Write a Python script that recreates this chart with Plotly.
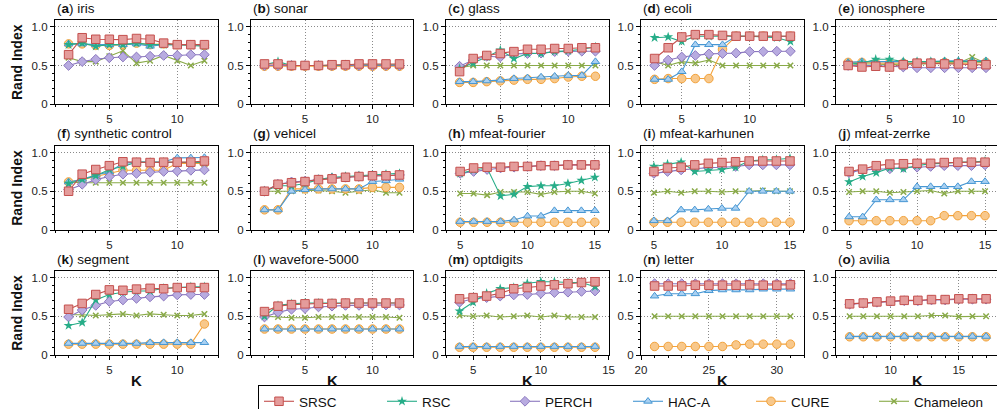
import plotly.graph_objects as go

W, H = 997, 409

# ---------------- data ----------------
a_K = [2, 3, 4, 5, 6, 7, 8, 9, 10, 11, 12]
a_SRSC = [0.64, 0.86, 0.84, 0.84, 0.835, 0.85, 0.84, 0.79, 0.77, 0.77, 0.77]
a_RSC = [0.77, 0.79, 0.75, 0.77, 0.77, 0.79, 0.77, 0.77, 0.77, 0.76, 0.75]
a_PERCH = [0.50, 0.55, 0.58, 0.60, 0.61, 0.61, 0.62, 0.63, 0.63, 0.64, 0.64]
a_HACA = [0.78, 0.78, 0.77, 0.77, 0.77, 0.78, 0.75, 0.77, 0.77, 0.77, 0.76]
a_CURE = [0.78, 0.78, 0.76, 0.76, 0.77, 0.79, 0.77, 0.78, 0.77, 0.77, 0.76]
a_CHAM = [0.60, 0.55, 0.55, 0.62, 0.69, 0.53, 0.56, 0.63, 0.56, 0.50, 0.56]

b_K = [2, 3, 4, 5, 6, 7, 8, 9, 10, 11, 12]
b_SRSC = [0.52, 0.52, 0.50, 0.50, 0.50, 0.51, 0.51, 0.52, 0.52, 0.52, 0.52]
b_RSC = [0.51, 0.55, 0.50, 0.50, 0.50, 0.50, 0.51, 0.51, 0.51, 0.51, 0.51]
b_PERCH = [0.50, 0.50, 0.50, 0.50, 0.50, 0.50, 0.50, 0.50, 0.50, 0.50, 0.50]
b_HACA = [0.50, 0.50, 0.50, 0.50, 0.50, 0.50, 0.50, 0.50, 0.50, 0.50, 0.50]
b_CURE = [0.49, 0.49, 0.49, 0.49, 0.49, 0.49, 0.49, 0.49, 0.49, 0.49, 0.49]
b_CHAM = [0.50, 0.50, 0.50, 0.50, 0.50, 0.50, 0.50, 0.50, 0.50, 0.50, 0.50]

c_K = [2, 3, 4, 5, 6, 7, 8, 9, 10, 11, 12]
c_SRSC = [0.42, 0.59, 0.63, 0.655, 0.68, 0.71, 0.71, 0.72, 0.72, 0.73, 0.73]
c_RSC = [0.46, 0.53, 0.61, 0.70, 0.59, 0.655, 0.655, 0.68, 0.69, 0.71, 0.74]
c_PERCH = [0.49, 0.57, 0.62, 0.61, 0.65, 0.655, 0.66, 0.68, 0.685, 0.685, 0.685]
c_HACA = [0.29, 0.29, 0.30, 0.31, 0.33, 0.34, 0.35, 0.36, 0.37, 0.37, 0.55]
c_CURE = [0.28, 0.28, 0.29, 0.30, 0.31, 0.32, 0.32, 0.33, 0.35, 0.36, 0.36]
c_CHAM = [0.47, 0.50, 0.50, 0.50, 0.50, 0.50, 0.50, 0.50, 0.50, 0.50, 0.50]

d_K = [3, 4, 5, 6, 7, 8, 9, 10, 11, 12, 13]
d_SRSC = [0.59, 0.73, 0.87, 0.90, 0.90, 0.89, 0.88, 0.88, 0.88, 0.88, 0.88]
d_RSC = [0.86, 0.87, 0.81, 0.88, 0.88, 0.88, 0.88, 0.88, 0.87, 0.86, 0.81]
d_PERCH = [0.50, 0.57, 0.61, 0.63, 0.65, 0.655, 0.66, 0.68, 0.68, 0.685, 0.685]
d_HACA = [0.32, 0.32, 0.42, 0.77, 0.77, 0.77, 0.88, 0.88, 0.88, 0.88, 0.88]
d_CURE = [0.32, 0.33, 0.33, 0.33, 0.33, 0.71, 0.88, 0.88, 0.88, 0.88, 0.88]
d_CHAM = [0.55, 0.50, 0.55, 0.53, 0.57, 0.50, 0.50, 0.50, 0.50, 0.50, 0.50]

e_K = [2, 3, 4, 5, 6, 7, 8, 9, 10, 11, 12]
e_SRSC = [0.50, 0.48, 0.49, 0.48, 0.51, 0.53, 0.53, 0.52, 0.52, 0.51, 0.51]
e_RSC = [0.52, 0.53, 0.58, 0.58, 0.55, 0.55, 0.55, 0.55, 0.55, 0.55, 0.55]
e_PERCH = [0.50, 0.50, 0.50, 0.49, 0.48, 0.47, 0.47, 0.47, 0.47, 0.47, 0.47]
e_HACA = [0.54, 0.55, 0.55, 0.55, 0.55, 0.55, 0.55, 0.56, 0.56, 0.56, 0.56]
e_CURE = [0.54, 0.54, 0.53, 0.53, 0.53, 0.53, 0.53, 0.54, 0.53, 0.53, 0.54]
e_CHAM = [0.50, 0.52, 0.52, 0.51, 0.52, 0.52, 0.52, 0.53, 0.53, 0.61, 0.53]

f_K = [2, 3, 4, 5, 6, 7, 8, 9, 10, 11, 12]
f_SRSC = [0.50, 0.72, 0.78, 0.83, 0.88, 0.875, 0.87, 0.875, 0.875, 0.875, 0.89]
f_RSC = [0.60, 0.65, 0.70, 0.78, 0.82, 0.875, 0.875, 0.875, 0.87, 0.87, 0.87]
f_PERCH = [0.52, 0.59, 0.65, 0.69, 0.72, 0.73, 0.745, 0.755, 0.76, 0.77, 0.775]
f_HACA = [0.62, 0.655, 0.71, 0.75, 0.86, 0.875, 0.875, 0.88, 0.93, 0.93, 0.935]
f_CURE = [0.62, 0.65, 0.69, 0.73, 0.77, 0.77, 0.77, 0.77, 0.86, 0.86, 0.86]
f_CHAM = [0.62, 0.61, 0.61, 0.61, 0.61, 0.61, 0.61, 0.61, 0.61, 0.61, 0.61]

g_K = [2, 3, 4, 5, 6, 7, 8, 9, 10, 11, 12]
g_SRSC = [0.50, 0.59, 0.61, 0.625, 0.65, 0.66, 0.68, 0.69, 0.70, 0.70, 0.71]
g_RSC = [0.50, 0.57, 0.57, 0.60, 0.65, 0.68, 0.69, 0.70, 0.71, 0.72, 0.73]
g_PERCH = [0.50, 0.59, 0.62, 0.63, 0.65, 0.67, 0.68, 0.69, 0.70, 0.70, 0.71]
g_HACA = [0.26, 0.26, 0.50, 0.52, 0.53, 0.53, 0.53, 0.53, 0.625, 0.635, 0.655]
g_CURE = [0.26, 0.26, 0.53, 0.53, 0.53, 0.53, 0.53, 0.53, 0.55, 0.55, 0.55]
g_CHAM = [0.50, 0.50, 0.50, 0.51, 0.51, 0.50, 0.48, 0.50, 0.52, 0.48, 0.48]

h_K = [5, 6, 7, 8, 9, 10, 11, 12, 13, 14, 15]
h_SRSC = [0.755, 0.80, 0.81, 0.81, 0.82, 0.82, 0.83, 0.83, 0.84, 0.84, 0.84]
h_RSC = [0.73, 0.775, 0.80, 0.44, 0.46, 0.56, 0.57, 0.57, 0.60, 0.64, 0.68]
h_PERCH = [0.73, 0.755, 0.78, 0.80, 0.81, 0.82, 0.83, 0.83, 0.84, 0.84, 0.84]
h_HACA = [0.11, 0.11, 0.11, 0.11, 0.13, 0.18, 0.18, 0.25, 0.25, 0.25, 0.25]
h_CURE = [0.10, 0.10, 0.10, 0.10, 0.10, 0.10, 0.10, 0.10, 0.10, 0.10, 0.10]
h_CHAM = [0.47, 0.47, 0.45, 0.49, 0.49, 0.49, 0.46, 0.49, 0.50, 0.50, 0.47]

i_K = [5, 6, 7, 8, 9, 10, 11, 12, 13, 14, 15]
i_SRSC = [0.755, 0.80, 0.81, 0.84, 0.86, 0.87, 0.88, 0.89, 0.89, 0.89, 0.89]
i_RSC = [0.82, 0.85, 0.875, 0.755, 0.77, 0.78, 0.81, 0.89, 0.905, 0.91, 0.925]
i_PERCH = [0.73, 0.755, 0.775, 0.79, 0.805, 0.81, 0.82, 0.84, 0.84, 0.84, 0.84]
i_HACA = [0.12, 0.12, 0.26, 0.26, 0.27, 0.28, 0.28, 0.50, 0.50, 0.50, 0.50]
i_CURE = [0.10, 0.10, 0.10, 0.10, 0.10, 0.10, 0.10, 0.10, 0.10, 0.10, 0.10]
i_CHAM = [0.48, 0.50, 0.48, 0.50, 0.50, 0.49, 0.50, 0.50, 0.51, 0.50, 0.50]

j_K = [5, 6, 7, 8, 9, 10, 11, 12, 13, 14, 15]
j_SRSC = [0.755, 0.785, 0.83, 0.85, 0.855, 0.86, 0.86, 0.87, 0.875, 0.875, 0.875]
j_RSC = [0.62, 0.69, 0.74, 0.80, 0.79, 0.83, 0.855, 0.86, 0.875, 0.875, 0.89]
j_PERCH = [0.74, 0.775, 0.785, 0.79, 0.81, 0.81, 0.82, 0.83, 0.83, 0.83, 0.84]
j_HACA = [0.17, 0.17, 0.39, 0.39, 0.39, 0.56, 0.56, 0.56, 0.56, 0.625, 0.625]
j_CURE = [0.12, 0.12, 0.12, 0.12, 0.12, 0.12, 0.12, 0.185, 0.185, 0.185, 0.185]
j_CHAM = [0.49, 0.50, 0.50, 0.48, 0.49, 0.50, 0.51, 0.47, 0.50, 0.50, 0.50]

k_K = [2, 3, 4, 5, 6, 7, 8, 9, 10, 11, 12]
k_SRSC = [0.59, 0.665, 0.78, 0.84, 0.835, 0.85, 0.86, 0.855, 0.87, 0.87, 0.87]
k_RSC = [0.38, 0.42, 0.71, 0.78, 0.81, 0.825, 0.825, 0.86, 0.87, 0.88, 0.88]
k_PERCH = [0.49, 0.58, 0.64, 0.69, 0.71, 0.73, 0.75, 0.76, 0.775, 0.78, 0.78]
k_HACA = [0.15, 0.15, 0.15, 0.15, 0.15, 0.15, 0.16, 0.16, 0.16, 0.16, 0.16]
k_CURE = [0.14, 0.14, 0.14, 0.14, 0.14, 0.14, 0.14, 0.14, 0.14, 0.14, 0.40]
k_CHAM = [0.52, 0.52, 0.51, 0.52, 0.53, 0.51, 0.53, 0.52, 0.51, 0.51, 0.53]

l_K = [2, 3, 4, 5, 6, 7, 8, 9, 10, 11, 12]
l_SRSC = [0.56, 0.63, 0.65, 0.66, 0.665, 0.665, 0.67, 0.67, 0.67, 0.67, 0.67]
l_RSC = [0.50, 0.64, 0.66, 0.67, 0.67, 0.67, 0.67, 0.67, 0.67, 0.67, 0.67]
l_PERCH = [0.49, 0.55, 0.59, 0.60, 0.62, 0.63, 0.64, 0.64, 0.645, 0.645, 0.645]
l_HACA = [0.335, 0.335, 0.335, 0.335, 0.335, 0.335, 0.335, 0.335, 0.335, 0.335, 0.335]
l_CURE = [0.335, 0.335, 0.335, 0.335, 0.335, 0.335, 0.335, 0.335, 0.335, 0.335, 0.335]
l_CHAM = [0.50, 0.49, 0.48, 0.48, 0.49, 0.49, 0.49, 0.49, 0.49, 0.49, 0.48]

m_K = [4, 5, 6, 7, 8, 9, 10, 11, 12, 13, 14]
m_SRSC = [0.725, 0.74, 0.76, 0.795, 0.855, 0.87, 0.89, 0.905, 0.92, 0.935, 0.945]
m_RSC = [0.565, 0.68, 0.795, 0.855, 0.87, 0.925, 0.945, 0.945, 0.935, 0.935, 0.88]
m_PERCH = [0.68, 0.725, 0.74, 0.76, 0.775, 0.78, 0.795, 0.805, 0.81, 0.82, 0.825]
m_HACA = [0.11, 0.11, 0.11, 0.11, 0.11, 0.11, 0.11, 0.11, 0.11, 0.11, 0.11]
m_CURE = [0.10, 0.10, 0.10, 0.10, 0.10, 0.10, 0.10, 0.10, 0.10, 0.10, 0.10]
m_CHAM = [0.51, 0.50, 0.51, 0.49, 0.50, 0.51, 0.49, 0.51, 0.49, 0.49, 0.49]

n_K = [21, 22, 23, 24, 25, 26, 27, 28, 29, 30, 31]
n_SRSC = [0.89, 0.89, 0.89, 0.90, 0.90, 0.90, 0.90, 0.905, 0.90, 0.90, 0.905]
n_RSC = []
n_PERCH = [0.92, 0.92, 0.92, 0.92, 0.92, 0.92, 0.92, 0.92, 0.92, 0.92, 0.92]
n_HACA = [0.76, 0.79, 0.79, 0.79, 0.83, 0.84, 0.84, 0.84, 0.85, 0.85, 0.85]
n_CURE = [0.11, 0.11, 0.11, 0.11, 0.11, 0.11, 0.13, 0.14, 0.14, 0.14, 0.14]
n_CHAM = [0.50, 0.50, 0.50, 0.50, 0.50, 0.50, 0.50, 0.50, 0.50, 0.50, 0.50]

o_K = [7, 8, 9, 10, 11, 12, 13, 14, 15, 16, 17]
o_SRSC = [0.66, 0.67, 0.685, 0.695, 0.705, 0.705, 0.715, 0.715, 0.725, 0.725, 0.725]
o_RSC = []
o_PERCH = [0.655, 0.665, 0.68, 0.69, 0.70, 0.70, 0.71, 0.71, 0.72, 0.72, 0.72]
o_HACA = [0.24, 0.24, 0.24, 0.24, 0.24, 0.24, 0.24, 0.24, 0.24, 0.24, 0.24]
o_CURE = [0.235, 0.235, 0.235, 0.235, 0.235, 0.235, 0.235, 0.235, 0.235, 0.235, 0.235]
o_CHAM = [0.50, 0.50, 0.50, 0.50, 0.50, 0.50, 0.51, 0.51, 0.495, 0.50, 0.50]

panel_titles = ["(<b>a</b>) iris", "(<b>b</b>) sonar", "(<b>c</b>) glass", "(<b>d</b>) ecoli",
                "(<b>e</b>) ionosphere", "(<b>f</b>) synthetic control", "(<b>g</b>) vehicel",
                "(<b>h</b>) mfeat-fourier", "(<b>i</b>) mfeat-karhunen", "(<b>j</b>) mfeat-zerrke",
                "(<b>k</b>) segment", "(<b>l</b>) wavefore-5000", "(<b>m</b>) optdigits",
                "(<b>n</b>) letter", "(<b>o</b>) avilia"]

method_names = ["SRSC", "RSC", "PERCH", "HAC-A", "CURE", "Chameleon"]

panels_data = [
    (a_K, [a_SRSC, a_RSC, a_PERCH, a_HACA, a_CURE, a_CHAM]),
    (b_K, [b_SRSC, b_RSC, b_PERCH, b_HACA, b_CURE, b_CHAM]),
    (c_K, [c_SRSC, c_RSC, c_PERCH, c_HACA, c_CURE, c_CHAM]),
    (d_K, [d_SRSC, d_RSC, d_PERCH, d_HACA, d_CURE, d_CHAM]),
    (e_K, [e_SRSC, e_RSC, e_PERCH, e_HACA, e_CURE, e_CHAM]),
    (f_K, [f_SRSC, f_RSC, f_PERCH, f_HACA, f_CURE, f_CHAM]),
    (g_K, [g_SRSC, g_RSC, g_PERCH, g_HACA, g_CURE, g_CHAM]),
    (h_K, [h_SRSC, h_RSC, h_PERCH, h_HACA, h_CURE, h_CHAM]),
    (i_K, [i_SRSC, i_RSC, i_PERCH, i_HACA, i_CURE, i_CHAM]),
    (j_K, [j_SRSC, j_RSC, j_PERCH, j_HACA, j_CURE, j_CHAM]),
    (k_K, [k_SRSC, k_RSC, k_PERCH, k_HACA, k_CURE, k_CHAM]),
    (l_K, [l_SRSC, l_RSC, l_PERCH, l_HACA, l_CURE, l_CHAM]),
    (m_K, [m_SRSC, m_RSC, m_PERCH, m_HACA, m_CURE, m_CHAM]),
    (n_K, [n_SRSC, n_RSC, n_PERCH, n_HACA, n_CURE, n_CHAM]),
    (o_K, [o_SRSC, o_RSC, o_PERCH, o_HACA, o_CURE, o_CHAM]),
]

# ---------------- styling / layout ----------------
FONT = "Liberation Sans, Arial, Helvetica, sans-serif"

styles = {
    "SRSC":      dict(line="#c4504e", fill="#e49c9b", symbol="square", size=8.5, lw=1),
    "RSC":       dict(line="#27ad88", fill="#27ad88", symbol="star", size=7.5, lw=0),
    "PERCH":     dict(line="#8b77bf", fill="#b8abe0", symbol="diamond", size=7.5, lw=1),
    "HAC-A":     dict(line="#4797d3", fill="#a8d0f2", symbol="triangle-up", size=7.5, lw=1),
    "CURE":      dict(line="#f2a23b", fill="#f8c88b", symbol="circle", size=8.5, lw=1),
    "Chameleon": dict(line="#89aa48", fill="#89aa48", symbol="x-thin", size=5.5, lw=1.5),
}
draw_order = ["Chameleon", "CURE", "HAC-A", "PERCH", "RSC", "SRSC"]

col_px = [(55, 218), (251, 413), (446, 609), (641, 804), (836, 997)]
row_px = [(20, 104), (145.5, 230), (270.5, 355)]
x_ranges = [[1, 13], [1, 13], [1, 13], [2, 14], [1.12, 12.8],
            [1, 13], [1, 13], [3.95, 16.05], [4.05, 16.03], [4.04, 15.88],
            [1, 13], [1, 13], [3, 15.03], [20, 32], [6, 17.8]]
Y_RANGE = [0, 1.09]
GRID = dict(showgrid=True, gridcolor="#8a8a8a", griddash="1px,2px", gridwidth=1)

fig = go.Figure()
layout = {}
annotations = []

for p, (K, series) in enumerate(panels_data):
    r, c = divmod(p, 5)
    idx = p + 1
    xa = "x" if idx == 1 else f"x{idx}"
    ya = "y" if idx == 1 else f"y{idx}"
    x0, x1 = col_px[c]
    y0, y1 = row_px[r]
    for name in draw_order:
        vals = series[method_names.index(name)]
        if not vals:
            continue
        st = styles[name]
        mk = dict(symbol=st["symbol"], size=st["size"], color=st["fill"],
                  line=dict(color=st["line"], width=st["lw"]))
        fig.add_trace(go.Scatter(
            x=K, y=vals, mode="lines+markers", name=name,
            line=dict(color=st["line"], width=1.1), marker=mk,
            xaxis=xa, yaxis=ya, legendgroup=name,
            legendrank=method_names.index(name) + 1,
            showlegend=(p == 0), hoverinfo="skip"))
    axkey = "xaxis" if idx == 1 else f"xaxis{idx}"
    aykey = "yaxis" if idx == 1 else f"yaxis{idx}"
    layout[axkey] = dict(
        domain=[x0 / W, x1 / W], anchor=ya, range=x_ranges[p],
        tickmode="linear", tick0=0, dtick=5, ticks="outside", ticklen=4,
        tickcolor="black", showline=True, linecolor="black", linewidth=1.3,
        mirror=True, zeroline=False,
        tickfont=dict(size=11.5, color="#222", family=FONT),
        minor=dict(tickmode="linear", tick0=0, dtick=1, ticks="outside",
                   ticklen=2, tickcolor="black", showgrid=False), **GRID)
    layout[aykey] = dict(
        domain=[1 - y1 / H, 1 - y0 / H], anchor=xa, range=Y_RANGE,
        tickmode="array", tickvals=[0, 0.5, 1.0], ticktext=["0", "0.5", "1.0"],
        ticks="outside", ticklen=4, tickcolor="black", showline=True,
        linecolor="black", linewidth=1.3, mirror=True, zeroline=False,
        tickfont=dict(size=11.5, color="#222", family=FONT),
        minor=dict(tickmode="linear", tick0=0, dtick=0.1, ticks="outside",
                   ticklen=2, tickcolor="black", showgrid=False), **GRID)
    annotations.append(dict(
        text=panel_titles[p], x=x0 / W, y=1 - (y0 - 2) / H, xref="paper", yref="paper",
        xanchor="left", yanchor="bottom", showarrow=False,
        font=dict(size=13.5, color="#111", family=FONT)))

for r, (y0, y1) in enumerate(row_px):
    annotations.append(dict(
        text="<b>Rand Index</b>", x=17 / W, y=1 - ((y0 + y1) / 2) / H,
        xref="paper", yref="paper", textangle=-90, showarrow=False,
        xanchor="center", yanchor="middle", font=dict(size=14, color="#111", family=FONT)))

for c, (x0, x1) in enumerate(col_px):
    xc = (x0 + x1) / 2 if c < 4 else 917
    annotations.append(dict(
        text="<b>K</b>", x=xc / W, y=1 - 380 / H, xref="paper", yref="paper",
        showarrow=False, xanchor="center", yanchor="middle",
        font=dict(size=15, color="#111", family=FONT)))

fig.update_layout(
    **layout,
    annotations=annotations,
    width=W, height=H,
    margin=dict(l=0, r=0, t=0, b=0, autoexpand=False),
    paper_bgcolor="white", plot_bgcolor="white",
    font=dict(family=FONT, color="#111"),
    legend=dict(orientation="h", x=258 / W, y=1 - 385 / H, xanchor="left", yanchor="top",
                bordercolor="black", borderwidth=1, bgcolor="white",
                font=dict(size=13.5, family=FONT, color="#111"),
                entrywidth=78, entrywidthmode="pixels", traceorder="normal",
                tracegroupgap=0),
    showlegend=True,
)

fig.write_html("out.html",
               config={"displayModeBar": False},
               post_script="document.body.style.margin='0';document.body.style.padding='0';")
